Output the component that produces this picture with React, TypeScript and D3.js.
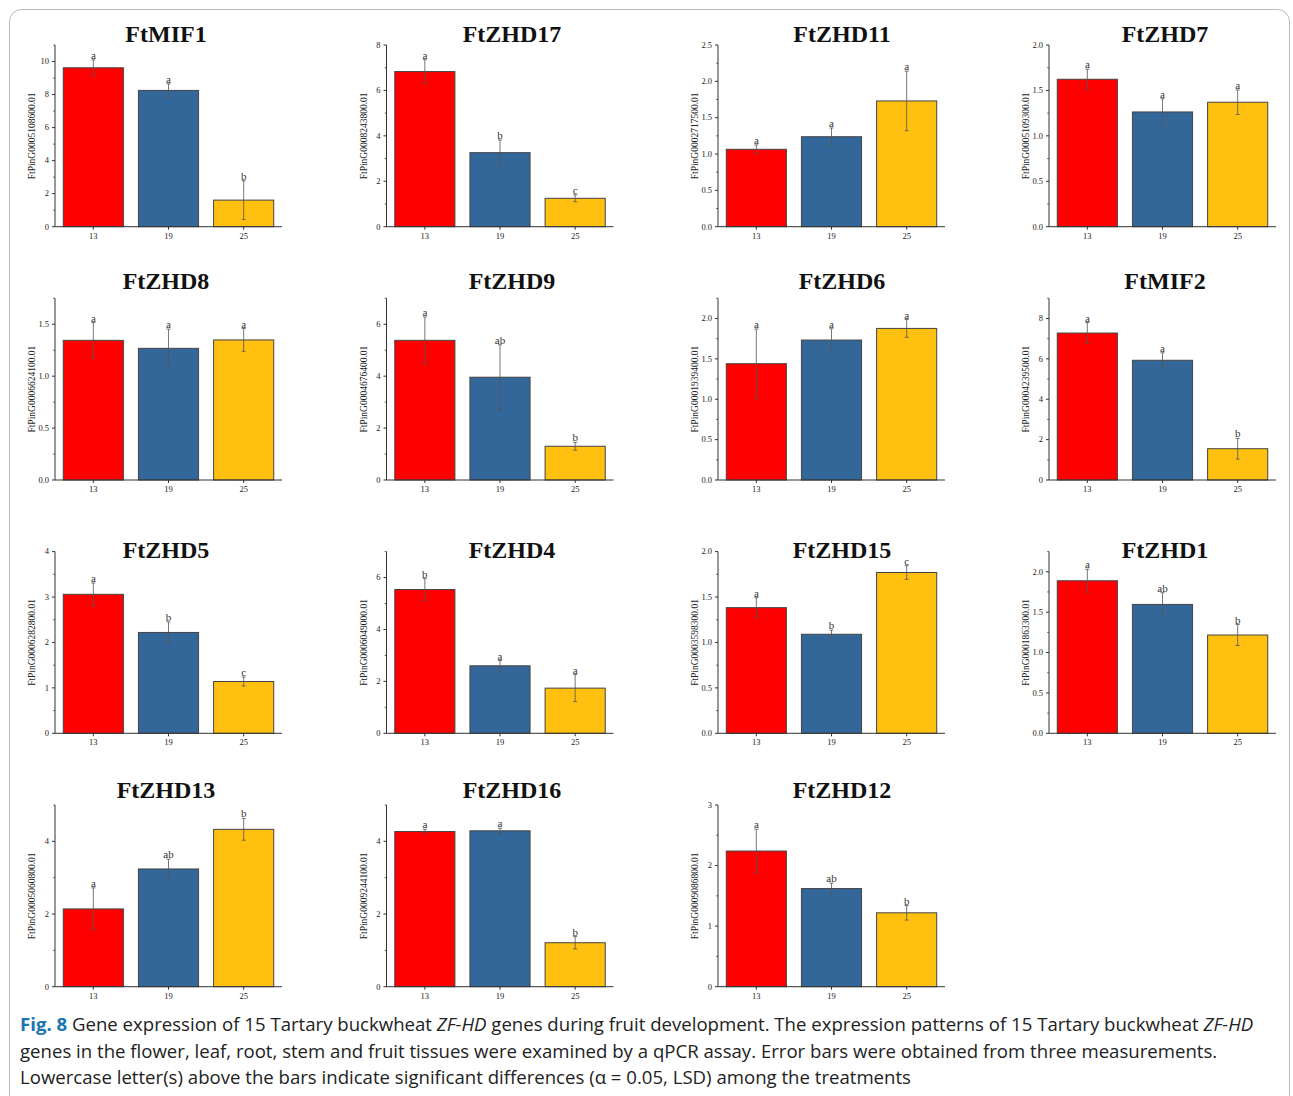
import React from "react";
import * as d3 from "d3";

// Developmental stages (days) shown on every x axis
const stages = ["13", "19", "25"];

// Gene names (panel titles), in reading order
const genes = [
  "FtMIF1", "FtZHD17", "FtZHD11", "FtZHD7",
  "FtZHD8", "FtZHD9", "FtZHD6", "FtMIF2",
  "FtZHD5", "FtZHD4", "FtZHD15", "FtZHD1",
  "FtZHD13", "FtZHD16", "FtZHD12",
];

// Gene identifiers used as y-axis titles
const geneIds = [
  "FtPinG0005108600.01", "FtPinG0008243800.01", "FtPinG0002717500.01", "FtPinG0005109300.01",
  "FtPinG0006624100.01", "FtPinG0004676400.01", "FtPinG0001939400.01", "FtPinG0004239500.01",
  "FtPinG0006282800.01", "FtPinG0006049000.01", "FtPinG0003598300.01", "FtPinG0001863300.01",
  "FtPinG0005060800.01", "FtPinG0009244100.01", "FtPinG0009086800.01",
];

// Upper bound of each y axis and its labelled tick step
const yMax = [11, 8, 2.5, 2, 1.75, 7, 2.25, 9, 4, 7, 2, 2.25, 5, 5, 3];
const yStep = [2, 2, 0.5, 0.5, 0.5, 2, 0.5, 2, 1, 2, 0.5, 0.5, 2, 2, 1];

// Mean relative expression at stages 13, 19, 25
const means = [
  [9.62, 8.25, 1.61], [6.83, 3.26, 1.25], [1.065, 1.238, 1.73], [1.623, 1.263, 1.37],
  [1.345, 1.268, 1.349], [5.38, 3.96, 1.3], [1.44, 1.733, 1.877], [7.28, 5.93, 1.55],
  [3.06, 2.22, 1.14], [5.54, 2.6, 1.74], [1.383, 1.09, 1.77], [1.889, 1.596, 1.217],
  [2.14, 3.24, 4.33], [4.27, 4.29, 1.21], [2.24, 1.62, 1.22],
];

// Error-bar half lengths
const errors = [
  [0.48, 0.4, 1.17], [0.52, 0.56, 0.15], [0.06, 0.12, 0.41], [0.11, 0.145, 0.135],
  [0.17, 0.185, 0.11], [0.9, 1.25, 0.15], [0.43, 0.14, 0.11], [0.52, 0.37, 0.51],
  [0.25, 0.23, 0.1], [0.42, 0.2, 0.52], [0.11, 0.045, 0.075], [0.143, 0.145, 0.13],
  [0.58, 0.27, 0.3], [0.06, 0.07, 0.17], [0.36, 0.09, 0.12],
];

// Significance letters (LSD, α = 0.05)
const letters = [
  ["a", "a", "b"], ["a", "b", "c"], ["a", "a", "a"], ["a", "a", "a"],
  ["a", "a", "a"], ["a", "ab", "b"], ["a", "a", "a"], ["a", "a", "b"],
  ["a", "b", "c"], ["b", "a", "a"], ["a", "b", "c"], ["a", "ab", "b"],
  ["a", "ab", "b"], ["a", "a", "b"], ["a", "ab", "b"],
];

const barColors = ["#FF0000", "#336699", "#FFC010"];

const W = 1293;
const H = 1096;
const colAxisX = [55, 386.5, 718, 1049];
const colTitleX = [166, 512, 842, 1165];
const rowBottom = [226.7, 480, 733.3, 986.7];
const rowTitleY = [42, 289, 558, 798];
const plotH = 181.7;
const plotW = 227;
const serif = "'Liberation Serif', 'Times New Roman', serif";
const sans = "'Open Sans', 'Noto Sans', sans-serif";

function fmt(v: number, step: number) {
  return step < 1 ? v.toFixed(1) : String(v);
}

function Panel({ i }: { i: number }) {
  const col = i % 4;
  const row = Math.floor(i / 4);
  const x0 = colAxisX[col];
  const y0 = rowBottom[row];
  const y = d3.scaleLinear().domain([0, yMax[i]]).range([y0, y0 - plotH]);
  const x = d3
    .scaleBand<string>()
    .domain(stages)
    .range([x0, x0 + plotW])
    .paddingInner(0.2)
    .paddingOuter(0.11);
  const step = yStep[i];
  const major = d3.range(0, yMax[i] + 1e-9, step);
  const minor = d3.range(step / 2, yMax[i] + 1e-9, step);
  const axisColor = "#333";
  return (
    <g>
      <text
        x={colTitleX[col]}
        y={rowTitleY[row]}
        textAnchor="middle"
        fontFamily={serif}
        fontWeight="bold"
        fontSize={24}
        fill="#111"
      >
        {genes[i]}
      </text>
      <text
        transform={`translate(${x0 - 20},${y0 - plotH / 2}) rotate(-90)`}
        textAnchor="middle"
        fontFamily={serif}
        fontSize={9.5}
        fill="#222"
      >
        {geneIds[i]}
      </text>
      {stages.map((s, k) => {
        const v = means[i][k];
        const e = errors[i][k];
        const bx = x(s)!;
        const cx = bx + x.bandwidth() / 2;
        return (
          <g key={s}>
            <rect
              x={bx}
              y={y(v)}
              width={x.bandwidth()}
              height={y0 - y(v)}
              fill={barColors[k]}
              stroke="#444"
              strokeWidth={1}
            />
            <line x1={cx} x2={cx} y1={y(v + e)} y2={y(v - e)} stroke="#555" strokeWidth={0.8} />
            <line x1={cx - 2} x2={cx + 2} y1={y(v + e)} y2={y(v + e)} stroke="#555" strokeWidth={0.8} />
            <line x1={cx - 2} x2={cx + 2} y1={y(v - e)} y2={y(v - e)} stroke="#555" strokeWidth={0.8} />
            <text
              x={cx}
              y={y(v + e) - 1}
              textAnchor="middle"
              fontFamily={serif}
              fontSize={11}
              fill="#333"
            >
              {letters[i][k]}
            </text>
            <line x1={cx} x2={cx} y1={y0} y2={y0 + 3} stroke={axisColor} strokeWidth={1} />
            <text
              x={cx}
              y={y0 + 12}
              textAnchor="middle"
              fontFamily={serif}
              fontSize={8.5}
              fill="#222"
            >
              {s}
            </text>
          </g>
        );
      })}
      <line x1={x0} x2={x0} y1={y0 - plotH} y2={y0} stroke={axisColor} strokeWidth={1} />
      <line x1={x0} x2={x0 + plotW} y1={y0} y2={y0} stroke={axisColor} strokeWidth={1} />
      {major.map((t) => (
        <g key={"M" + t}>
          <line x1={x0 - 3} x2={x0} y1={y(t)} y2={y(t)} stroke={axisColor} strokeWidth={1} />
          <text
            x={x0 - 6}
            y={y(t) + 2.8}
            textAnchor="end"
            fontFamily={serif}
            fontSize={8.5}
            fill="#222"
          >
            {fmt(t, step)}
          </text>
        </g>
      ))}
      {minor.map((t) => (
        <line key={"m" + t} x1={x0 - 1.8} x2={x0} y1={y(t)} y2={y(t)} stroke={axisColor} strokeWidth={0.8} />
      ))}
    </g>
  );
}

export default function App() {
  return (
    <div style={{ position: "absolute", left: 0, top: 0 }}>
      <svg width={W} height={H} viewBox={`0 0 ${W} ${H}`} style={{ display: "block", background: "#fff" }}>
        <rect x={9.5} y={9.5} width={1280} height={1110} rx={12} fill="none" stroke="#bbb" strokeWidth={1} />
        {genes.map((g, i) => (
          <Panel key={g} i={i} />
        ))}
        <g fontFamily={sans} fontSize={18.6} fill="#222">
          <text x={20} y={1031}>
            <tspan fontWeight="bold" fill="#1a75b0">Fig. 8</tspan>
            <tspan> Gene expression of 15 Tartary buckwheat </tspan>
            <tspan fontStyle="italic">ZF-HD</tspan>
            <tspan> genes during fruit development. The expression patterns of 15 Tartary buckwheat </tspan>
            <tspan fontStyle="italic">ZF-HD</tspan>
          </text>
          <text x={20} y={1058}>
            genes in the flower, leaf, root, stem and fruit tissues were examined by a qPCR assay. Error bars were obtained from three measurements.
          </text>
          <text x={20} y={1084}>
            Lowercase letter(s) above the bars indicate significant differences (α = 0.05, LSD) among the treatments
          </text>
        </g>
      </svg>
    </div>
  );
}
